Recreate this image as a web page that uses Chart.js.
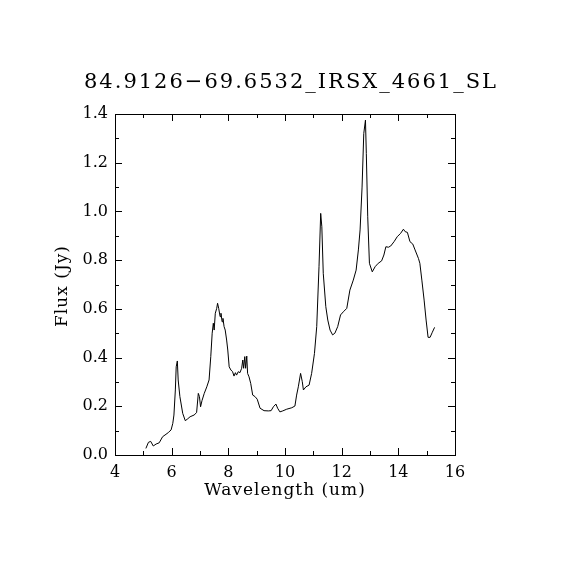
<!DOCTYPE html>
<html>
<head>
<meta charset="utf-8">
<script src="https://cdn.jsdelivr.net/npm/chart.js@4.4.1/dist/chart.umd.min.js"></script>
<style>
  html, body { margin: 0; padding: 0; background: #fff; }
  #wrap { width: 570px; height: 570px; }
</style>
</head>
<body>
<div id="wrap"><canvas id="specChart" width="570" height="570"></canvas></div>
<script>
// spectrum
const wavelength = [
  5.09, 5.18, 5.26, 5.35, 5.45, 5.56, 5.68, 5.80, 5.88, 5.98,
  6.04, 6.08, 6.13, 6.16, 6.20, 6.23, 6.29, 6.39, 6.48, 6.55,
  6.65, 6.79, 6.88, 6.94, 6.98, 7.02, 7.07, 7.15, 7.24, 7.32,
  7.38, 7.43, 7.47, 7.50, 7.54, 7.59, 7.62, 7.66, 7.71, 7.74,
  7.78, 7.81, 7.85, 7.89, 7.94, 7.98, 8.03, 8.09, 8.15, 8.20,
  8.25, 8.29, 8.35, 8.41, 8.47, 8.51, 8.54, 8.58, 8.61, 8.65,
  8.68, 8.73, 8.79, 8.86, 8.94, 9.02, 9.12, 9.26, 9.41, 9.51,
  9.59, 9.68, 9.74, 9.82, 9.92, 10.06, 10.24, 10.35, 10.41, 10.47,
  10.55, 10.61, 10.65, 10.74, 10.85, 10.94, 11.04, 11.12, 11.20, 11.26,
  11.30, 11.35, 11.44, 11.51, 11.59, 11.68, 11.76, 11.86, 11.96, 12.06,
  12.18, 12.29, 12.41, 12.51, 12.59, 12.65, 12.72, 12.78, 12.84, 12.87,
  12.92, 12.98, 13.08, 13.18, 13.29, 13.41, 13.49, 13.56, 13.65, 13.73,
  13.85, 13.96, 14.08, 14.18, 14.24, 14.32, 14.41, 14.51, 14.59, 14.71,
  14.76, 14.83, 14.91, 14.98, 15.05, 15.12, 15.20, 15.28
];
const flux = [
  0.027, 0.052, 0.056, 0.037, 0.045, 0.050, 0.075, 0.085, 0.092, 0.103,
  0.130, 0.164, 0.267, 0.362, 0.386, 0.308, 0.240, 0.171, 0.141, 0.147,
  0.157, 0.164, 0.174, 0.253, 0.240, 0.198, 0.223, 0.253, 0.280, 0.308,
  0.404, 0.500, 0.541, 0.513, 0.582, 0.602, 0.623, 0.602, 0.568, 0.582,
  0.547, 0.561, 0.527, 0.513, 0.472, 0.431, 0.362, 0.349, 0.342, 0.324,
  0.338, 0.328, 0.342, 0.338, 0.356, 0.390, 0.356, 0.404, 0.356, 0.406,
  0.335, 0.321, 0.294, 0.246, 0.240, 0.229, 0.192, 0.182, 0.181, 0.182,
  0.198, 0.209, 0.192, 0.177, 0.181, 0.188, 0.194, 0.201, 0.246, 0.280,
  0.335, 0.301, 0.267, 0.280, 0.287, 0.335, 0.417, 0.527, 0.773, 0.992,
  0.937, 0.746, 0.609, 0.554, 0.513, 0.493, 0.500, 0.527, 0.575, 0.588,
  0.602, 0.677, 0.718, 0.759, 0.842, 0.924, 1.100, 1.320, 1.375, 1.238,
  0.978, 0.787, 0.752, 0.773, 0.787, 0.797, 0.821, 0.855, 0.853, 0.858,
  0.876, 0.896, 0.910, 0.927, 0.917, 0.914, 0.876, 0.866, 0.842, 0.807,
  0.787, 0.718, 0.636, 0.554, 0.483, 0.483, 0.504, 0.524
];

// axis ticks
const xMajorTicks = [4, 6, 8, 10, 12, 14, 16];
const xMinorTicks = [5, 7, 9, 11, 13, 15];
const yMajorTicks = [0.0, 0.2, 0.4, 0.6, 0.8, 1.0, 1.2, 1.4];
const yMinorTicks = [0.1, 0.3, 0.5, 0.7, 0.9, 1.1, 1.3];

const plotTitle = '84.9126\u221269.6532_IRSX_4661_SL';
const xTitle = 'Wavelength (um)';
const yTitle = 'Flux (Jy)';

const labelFont = '"DejaVu Serif", "Liberation Serif", serif';

const points = wavelength.map((w, i) => ({ x: w, y: flux[i] }));

// frame, inward ticks on all four sides, titles
const framePlugin = {
  id: 'frame',
  afterDraw(chart) {
    const ctx = chart.ctx;
    const a = chart.chartArea;
    const xs = chart.scales.x;
    const ys = chart.scales.y;
    ctx.save();
    ctx.strokeStyle = '#000';
    ctx.lineWidth = 1;
    ctx.strokeRect(a.left + 0.5, a.top + 0.5, a.right - a.left, a.bottom - a.top);

    ctx.beginPath();
    const tickX = (v, len) => {
      const px = Math.round(xs.getPixelForValue(v)) + 0.5;
      ctx.moveTo(px, a.bottom); ctx.lineTo(px, a.bottom - len);
      ctx.moveTo(px, a.top); ctx.lineTo(px, a.top + len);
    };
    const tickY = (v, len) => {
      const py = Math.round(ys.getPixelForValue(v)) + 0.5;
      ctx.moveTo(a.left, py); ctx.lineTo(a.left + len, py);
      ctx.moveTo(a.right, py); ctx.lineTo(a.right - len, py);
    };
    xMajorTicks.forEach(v => tickX(v, 7));
    xMinorTicks.forEach(v => tickX(v, 4));
    yMajorTicks.forEach(v => tickY(v, 7));
    yMinorTicks.forEach(v => tickY(v, 4));
    ctx.stroke();

    ctx.fillStyle = '#000';
    ctx.textAlign = 'center';
    ctx.textBaseline = 'middle';
    ctx.font = '21px ' + labelFont;
    ctx.letterSpacing = '2px';
    ctx.fillText(plotTitle, 291, 83);

    ctx.font = '17px ' + labelFont;
    ctx.letterSpacing = '1px';
    ctx.fillText(xTitle, 285, 491);

    ctx.translate(63, 286);
    ctx.rotate(-Math.PI / 2);
    ctx.font = '17px ' + labelFont;
    ctx.letterSpacing = '1px';
    ctx.fillText(yTitle, 0, 0);
    ctx.letterSpacing = '0px';
    ctx.restore();
  }
};

const whiteBg = {
  id: 'whiteBg',
  beforeDraw(chart) {
    const ctx = chart.ctx;
    ctx.save();
    ctx.fillStyle = '#fff';
    ctx.fillRect(0, 0, chart.width, chart.height);
    ctx.restore();
  }
};

new Chart(document.getElementById('specChart').getContext('2d'), {
  type: 'line',
  data: {
    datasets: [{
      data: points,
      borderColor: '#000',
      borderWidth: 1,
      pointRadius: 0,
      tension: 0,
      fill: false
    }]
  },
  options: {
    responsive: false,
    animation: false,
    layout: { padding: { top: 114, right: 115, left: 0, bottom: 0 } },
    plugins: {
      legend: { display: false },
      tooltip: { enabled: false }
    },
    scales: {
      x: {
        type: 'linear',
        min: 4,
        max: 16,
        grid: { display: false, drawTicks: false },
        border: { display: false },
        afterFit(scale) { scale.height = 115; },
        afterBuildTicks(scale) { scale.ticks = xMajorTicks.map(v => ({ value: v })); },
        ticks: {
          color: '#000',
          padding: 8,
          maxRotation: 0,
          font: { family: labelFont, size: 16 },
          callback: v => String(v)
        }
      },
      y: {
        type: 'linear',
        min: 0,
        max: 1.4,
        grid: { display: false, drawTicks: false },
        border: { display: false },
        afterFit(scale) { scale.width = 115; },
        afterBuildTicks(scale) { scale.ticks = yMajorTicks.map(v => ({ value: v })); },
        ticks: {
          color: '#000',
          padding: 7,
          font: { family: labelFont, size: 16 },
          callback: v => v.toFixed(1)
        }
      }
    }
  },
  plugins: [whiteBg, framePlugin]
});
</script>
</body>
</html>
